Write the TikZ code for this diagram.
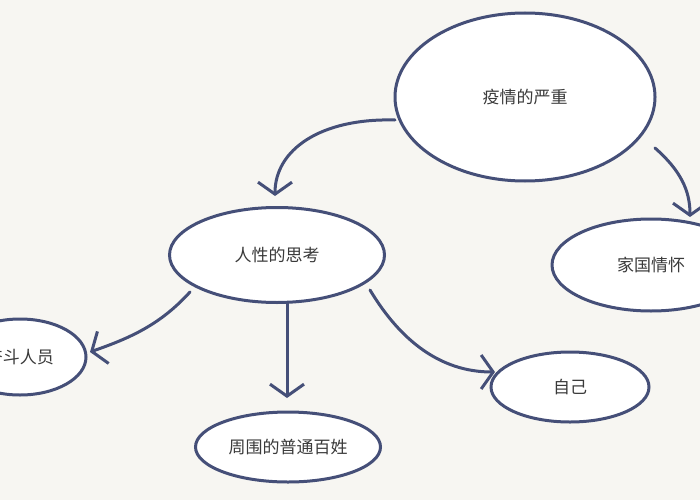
\documentclass[tikz,border=0pt]{standalone}
\usepackage{fontspec}
\newfontfamily\cjk{Noto Sans CJK SC}
\usetikzlibrary{shapes.geometric, arrows.meta}
\definecolor{inkblue}{HTML}{454F78}
\definecolor{paper}{HTML}{F7F6F2}
\definecolor{shade}{HTML}{E6E4EB}
\definecolor{textgray}{HTML}{3A3A3A}
\begin{document}
\begin{tikzpicture}[x=1pt, y=-1pt,
		  % bubble nodes
		  bubble/.style={ellipse, draw=inkblue, line width=3pt, fill=white, inner sep=0pt,
		    font=\cjk\fontsize{17}{19}\selectfont, text=textgray},
		  % connectors
		  link/.style={draw=inkblue, line width=3pt, line cap=round,
		    -{Straight Barb[length=12pt, width=34pt, line width=3pt]}}
		  ]
		  \fill[paper] (0,0) rectangle (700,500);
		  \useasboundingbox (0,0) rectangle (700,500);

		  % bubbles
		  \node[bubble, minimum width=260pt, minimum height=168pt] (severe) at (525,97) {疫情的严重};
		  \node[bubble, minimum width=215pt, minimum height=95pt] (think) at (277,255) {人性的思考};
		  \node[bubble, minimum width=198pt, minimum height=92pt] (home) at (651,265) {家国情怀};
		  \node[bubble, minimum width=132pt, minimum height=76pt] (fight) at (20,357) {奋斗人员};
		  \node[bubble, minimum width=185pt, minimum height=70pt] (people) at (288,447) {周围的普通百姓};
		  \node[bubble, minimum width=158pt, minimum height=70pt] (self) at (570,387) {自己};

		  % connectors
		  \coordinate (severeL) at (395,120);
		  \coordinate (severeR) at (655,148);
		  \coordinate (thinkL) at (190,292);
		  \coordinate (thinkB) at (287,302);
		  \coordinate (thinkR) at (370,290);
		  \draw[link] (severeL) .. controls (320,118) and (275,150) .. (275,196);
		  \draw[link] (severeR) .. controls (680,170) and (690,190) .. (690,217);
		  \draw[link] (thinkL) .. controls (160,325) and (130,338) .. (90,352);
		  \draw[link] (thinkB) -- (287,398);
		  \draw[link] (thinkR) .. controls (400,340) and (440,372) .. (495,372);
		\end{tikzpicture}
\end{document}
